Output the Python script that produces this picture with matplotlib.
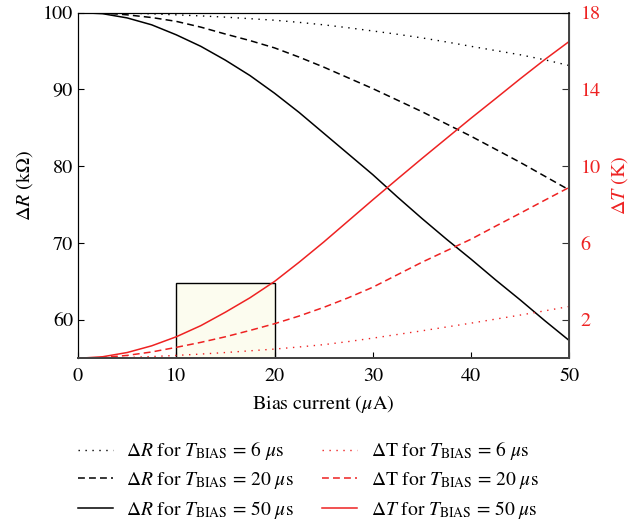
import numpy as np
import matplotlib
matplotlib.use("Agg")
import matplotlib.pyplot as plt
from matplotlib.patches import Rectangle

plt.rcParams["font.family"] = ["STIXGeneral", "DejaVu Serif"]
plt.rcParams["mathtext.fontset"] = "stix"

# Bias current (uA)
bias = [0, 2.5, 5, 7.5, 10, 12.5, 15, 17.5, 20, 22.5, 25,
        27.5, 30, 32.5, 35, 37.5, 40, 42.5, 45, 47.5, 50]

# Resistance change (kOhm) for each T_BIAS
dR_6us = [100, 99.98, 99.92, 99.83, 99.7, 99.56, 99.4, 99.2, 99.0, 98.72, 98.4,
          98.02, 97.6, 97.17, 96.7, 96.17, 95.6, 95.05, 94.5, 93.85, 93.1]
dR_20us = [100, 99.95, 99.7, 99.35, 98.85, 98.1, 97.2, 96.35, 95.4, 94.2, 92.9,
           91.5, 90.1, 88.6, 87.1, 85.5, 83.9, 82.2, 80.5, 78.7, 76.9]
dR_50us = [100, 99.85, 99.3, 98.4, 97.1, 95.6, 93.8, 91.8, 89.5, 87.0, 84.3,
           81.6, 78.9, 76.0, 73.2, 70.5, 67.9, 65.2, 62.6, 59.9, 57.3]

# Temperature change (K) for each T_BIAS
dT_6us = [0, 0.01, 0.04, 0.09, 0.15, 0.22, 0.3, 0.39, 0.48, 0.59, 0.71,
          0.87, 1.05, 1.24, 1.43, 1.63, 1.83, 2.04, 2.25, 2.47, 2.7]
dT_20us = [0, 0.04, 0.15, 0.33, 0.57, 0.83, 1.12, 1.45, 1.8, 2.2, 2.65,
           3.15, 3.7, 4.35, 5.0, 5.6, 6.2, 6.88, 7.55, 8.23, 8.9]
dT_50us = [0, 0.08, 0.3, 0.65, 1.12, 1.7, 2.4, 3.15, 4.0, 5.0, 6.05,
           7.15, 8.25, 9.33, 10.4, 11.45, 12.5, 13.52, 14.55, 15.55, 16.5]

red = "#ee2222"
dot = (0, (1, 4))
dash = (0, (4.5, 2.7))
fs = 14.5

fig = plt.figure(figsize=(6.34, 5.22), dpi=100)
ax = fig.add_axes([0.123, 0.3136, 0.775, 0.6624])
ax2 = ax.twinx()

l1, = ax.plot(bias, dR_6us, color="black", lw=1.0, linestyle=dot)
l2, = ax.plot(bias, dR_20us, color="black", lw=1.1, linestyle=dash)
l3, = ax.plot(bias, dR_50us, color="black", lw=1.1)

l4, = ax2.plot(bias, dT_6us, color=red, lw=1.0, linestyle=dot)
l5, = ax2.plot(bias, dT_20us, color=red, lw=1.1, linestyle=dash)
l6, = ax2.plot(bias, dT_50us, color=red, lw=1.1)

# zoom box
ax.add_patch(Rectangle((10, 55), 10, 9.75, facecolor="#fcfcef",
                       edgecolor="black", lw=1.0, zorder=0.5))

ax.set_xlim(0, 50)
ax.set_ylim(55, 100)
ax2.set_ylim(0, 18)
ax.set_xticks([0, 10, 20, 30, 40, 50])
ax.set_yticks([60, 70, 80, 90, 100])
ax2.set_yticks([2, 6, 10, 14, 18])

ax.tick_params(axis="both", direction="in", length=4, labelsize=fs, top=False)
ax.tick_params(axis="x", pad=7)
ax2.tick_params(axis="y", direction="in", length=5, labelsize=fs, colors=red,
                pad=8)
ax2.tick_params(axis="y", color="#333333")
for side in ["bottom", "right"]:
    ax2.spines[side].set_color("#444444")
    ax2.spines[side].set_linewidth(1.4)
ax.spines["bottom"].set_color("#444444")
ax.spines["bottom"].set_linewidth(1.4)

ax.set_xlabel(r"Bias current ($\mu$A)", fontsize=fs, labelpad=6)
ax.set_ylabel(r"$\Delta R$ (k$\Omega$)", fontsize=fs, labelpad=6)
ax2.set_ylabel(r"$\Delta T$ (K)", fontsize=fs, color=red, labelpad=6)

labels = [
    r"$\Delta R$ for $T_{\mathrm{BIAS}}$ = 6 $\mu$s",
    r"$\Delta R$ for $T_{\mathrm{BIAS}}$ = 20 $\mu$s",
    r"$\Delta R$ for $T_{\mathrm{BIAS}}$ = 50 $\mu$s",
    r"$\Delta$T for $T_{\mathrm{BIAS}}$ = 6 $\mu$s",
    r"$\Delta$T for $T_{\mathrm{BIAS}}$ = 20 $\mu$s",
    r"$\Delta T$ for $T_{\mathrm{BIAS}}$ = 50 $\mu$s",
]
fig.legend([l1, l2, l3, l4, l5, l6], labels, loc="center",
           bbox_to_anchor=(0.486, 0.08), ncol=2, frameon=False, fontsize=14,
           handlelength=1.8, handletextpad=0.7, columnspacing=1.45,
           labelspacing=0.4)

fig.savefig("out.png", dpi=100)
